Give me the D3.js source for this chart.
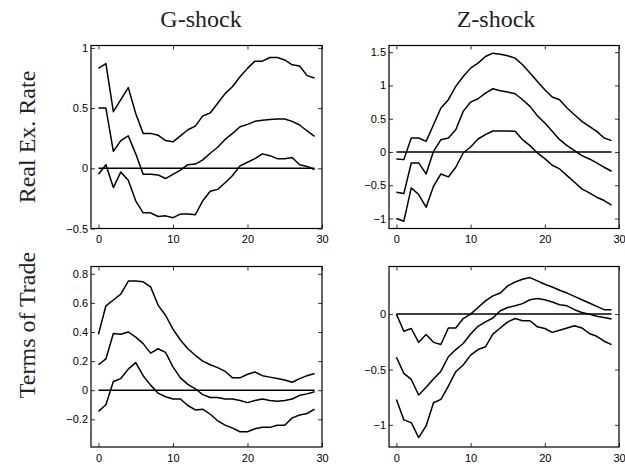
<!DOCTYPE html>
<html>
<head>
<meta charset="utf-8">
<script src="https://cdn.jsdelivr.net/npm/d3@7"></script>
<style>
  body { margin: 0; background: #fff; }
  svg { display: block; }
  .tick text { font-family: "Liberation Sans", Arial, sans-serif; font-size: 11px; fill: #000; }
  .ttl { font-family: "Liberation Serif", "Times New Roman", serif; font-size: 24px; fill: #222; }
</style>
</head>
<body>
<svg width="625" height="467"></svg>
<script>
const svg = d3.select('svg');

const horizon = d3.range(0, 30);
const columnTitles = ["G-shock", "Z-shock"];
const rowTitles = ["Real Ex. Rate", "Terms of Trade"];
const xTicks = [0, 10, 20, 30];

// Real exchange rate, G-shock
const rerGUpper = [0.83, 0.87, 0.47, 0.57, 0.67, 0.455, 0.29, 0.29, 0.275, 0.23, 0.22, 0.27, 0.32, 0.35, 0.435, 0.46, 0.54, 0.62, 0.68, 0.76, 0.83, 0.89, 0.89, 0.92, 0.92, 0.9, 0.86, 0.85, 0.77, 0.75];
const rerGMid = [0.5, 0.5, 0.14, 0.23, 0.27, 0.12, -0.05, -0.05, -0.055, -0.085, -0.05, -0.015, 0.03, 0.035, 0.07, 0.125, 0.175, 0.24, 0.29, 0.345, 0.365, 0.39, 0.4, 0.405, 0.41, 0.41, 0.39, 0.36, 0.31, 0.265];
const rerGLower = [-0.05, 0.03, -0.16, -0.03, -0.1, -0.27, -0.37, -0.37, -0.4, -0.395, -0.41, -0.38, -0.38, -0.385, -0.27, -0.19, -0.175, -0.12, -0.06, 0.02, 0.05, 0.08, 0.12, 0.105, 0.08, 0.08, 0.09, 0.03, 0.015, -0.01];

// Real exchange rate, Z-shock
const rerZUpper = [-0.105, -0.115, 0.21, 0.21, 0.16, 0.41, 0.66, 0.785, 0.985, 1.135, 1.26, 1.335, 1.435, 1.485, 1.47, 1.445, 1.41, 1.31, 1.185, 1.06, 0.935, 0.825, 0.785, 0.66, 0.56, 0.46, 0.385, 0.31, 0.21, 0.17];
const rerZMid = [-0.605, -0.625, -0.165, -0.165, -0.33, 0.01, 0.185, 0.21, 0.335, 0.61, 0.75, 0.8, 0.885, 0.95, 0.92, 0.9, 0.875, 0.785, 0.685, 0.545, 0.435, 0.31, 0.185, 0.095, 0.02, -0.055, -0.105, -0.165, -0.23, -0.29];
const rerZLower = [-1.0, -1.04, -0.54, -0.64, -0.83, -0.515, -0.33, -0.375, -0.23, -0.015, 0.075, 0.195, 0.26, 0.315, 0.315, 0.315, 0.31, 0.185, 0.095, -0.015, -0.1, -0.2, -0.255, -0.355, -0.455, -0.555, -0.615, -0.68, -0.73, -0.8];

// Terms of trade, G-shock
const totGUpper = [0.385, 0.58, 0.62, 0.66, 0.75, 0.75, 0.745, 0.71, 0.585, 0.515, 0.42, 0.345, 0.285, 0.24, 0.2, 0.175, 0.155, 0.13, 0.085, 0.085, 0.11, 0.125, 0.1, 0.09, 0.08, 0.07, 0.055, 0.08, 0.1, 0.115];
const totGMid = [0.175, 0.215, 0.39, 0.385, 0.4, 0.365, 0.32, 0.255, 0.285, 0.26, 0.16, 0.085, 0.04, 0.01, -0.03, -0.05, -0.05, -0.06, -0.06, -0.07, -0.085, -0.07, -0.06, -0.07, -0.075, -0.07, -0.06, -0.035, -0.025, -0.01];
const totGLower = [-0.145, -0.1, 0.06, 0.08, 0.145, 0.19, 0.1, 0.035, -0.02, -0.045, -0.06, -0.06, -0.105, -0.135, -0.13, -0.165, -0.21, -0.24, -0.26, -0.285, -0.285, -0.265, -0.255, -0.255, -0.24, -0.24, -0.19, -0.17, -0.16, -0.13];

// Terms of trade, Z-shock
const totZUpper = [0, -0.155, -0.13, -0.255, -0.185, -0.255, -0.275, -0.125, -0.125, -0.04, 0, 0.06, 0.12, 0.165, 0.19, 0.255, 0.29, 0.315, 0.33, 0.3, 0.27, 0.245, 0.215, 0.19, 0.16, 0.13, 0.1, 0.07, 0.04, 0.04];
const totZMid = [-0.39, -0.535, -0.59, -0.73, -0.66, -0.585, -0.515, -0.385, -0.32, -0.265, -0.18, -0.11, -0.07, -0.035, 0.03, 0.06, 0.075, 0.095, 0.13, 0.14, 0.13, 0.11, 0.085, 0.075, 0.04, 0.015, 0, -0.02, -0.03, -0.045];
const totZLower = [-0.77, -0.955, -0.98, -1.115, -1.01, -0.8, -0.77, -0.65, -0.52, -0.46, -0.37, -0.32, -0.295, -0.18, -0.125, -0.07, -0.04, -0.06, -0.06, -0.115, -0.13, -0.165, -0.145, -0.125, -0.105, -0.125, -0.175, -0.2, -0.245, -0.275];

const yDomains = [[-0.5, 1.02], [-1.15, 1.6], [-0.39, 0.85], [-1.2, 0.43]];
const yTickLists = [[-0.5, 0, 0.5, 1], [-1, -0.5, 0, 0.5, 1, 1.5], [-0.2, 0, 0.2, 0.4, 0.6, 0.8], [-1, -0.5, 0]];

const panels = [
  { col: 0, row: 0, series: [rerGUpper, rerGMid, rerGLower] },
  { col: 1, row: 0, series: [rerZUpper, rerZMid, rerZLower] },
  { col: 0, row: 1, series: [totGUpper, totGMid, totGLower] },
  { col: 1, row: 1, series: [totZUpper, totZMid, totZLower] }
];

const colX = [[91, 322], [389, 619]];
const rowY = [[45.5, 228.5], [266.5, 447]];

const fmt = d => d === 0 ? "0" : String(d).replace("-", "\u2212");

panels.forEach((p, i) => {
  const x = d3.scaleLinear().domain([-1, 30]).range(colX[p.col]);
  const y = d3.scaleLinear().domain(yDomains[i]).range([rowY[p.row][1], rowY[p.row][0]]);
  const g = svg.append('g');

  // inward ticks on all four sides, like a boxed axes
  g.append('g')
    .attr('transform', `translate(0,${rowY[p.row][1]})`)
    .call(d3.axisBottom(x).tickValues(xTicks).tickSize(-4).tickPadding(7).tickFormat(fmt));
  g.append('g')
    .attr('transform', `translate(0,${rowY[p.row][0]})`)
    .call(d3.axisTop(x).tickValues(xTicks).tickSize(-4).tickFormat(''));
  g.append('g')
    .attr('transform', `translate(${colX[p.col][0]},0)`)
    .call(d3.axisLeft(y).tickValues(yTickLists[i]).tickSize(-4).tickPadding(3).tickFormat(fmt));
  g.append('g')
    .attr('transform', `translate(${colX[p.col][1]},0)`)
    .call(d3.axisRight(y).tickValues(yTickLists[i]).tickSize(-4).tickFormat(''));
  g.selectAll('.domain').remove();
  g.selectAll('.tick line').attr('stroke', '#000').attr('stroke-width', 0.8);

  g.append('rect')
    .attr('x', colX[p.col][0]).attr('y', rowY[p.row][0])
    .attr('width', colX[p.col][1] - colX[p.col][0])
    .attr('height', rowY[p.row][1] - rowY[p.row][0])
    .attr('fill', 'none').attr('stroke', '#000').attr('stroke-width', 1.2);

  const line = d3.line().x((d, k) => x(horizon[k])).y(d => y(d));

  g.append('line')
    .attr('x1', x(0)).attr('x2', x(29))
    .attr('y1', y(0)).attr('y2', y(0))
    .attr('stroke', '#000').attr('stroke-width', 1.5);

  g.selectAll('path.irf')
    .data(p.series)
    .join('path')
      .attr('class', 'irf')
      .attr('d', line)
      .attr('fill', 'none')
      .attr('stroke', '#000')
      .attr('stroke-width', 1.5)
      .attr('stroke-linejoin', 'round');
});

svg.selectAll('text.col')
  .data(columnTitles)
  .join('text')
    .attr('class', 'ttl')
    .attr('x', (d, i) => i === 0 ? 201 : 496)
    .attr('y', 27)
    .attr('text-anchor', 'middle')
    .text(d => d);

svg.selectAll('text.row')
  .data(rowTitles)
  .join('text')
    .attr('class', 'ttl')
    .attr('text-anchor', 'middle')
    .attr('transform', (d, i) => `translate(35,${i === 0 ? 137 : 325}) rotate(-90)`)
    .text(d => d);
</script>
</body>
</html>
